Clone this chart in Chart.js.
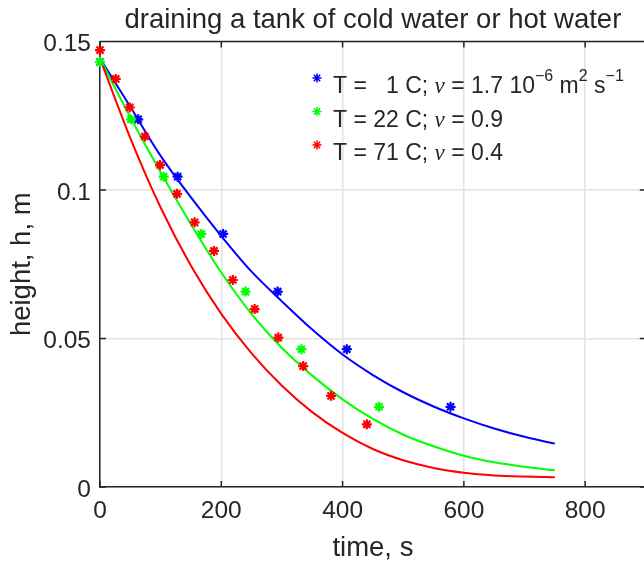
<!DOCTYPE html>
<html lang="en">
<head>
<meta charset="UTF-8">
<title>draining a tank of cold water or hot water</title>
<script src="https://cdn.jsdelivr.net/npm/chart.js@4.4.1/dist/chart.umd.min.js"></script>
<style>
  html, body { margin: 0; padding: 0; background: #ffffff; overflow: hidden; }
  #wrap { width: 653px; height: 573px; }
</style>
</head>
<body>
<div id="wrap"><canvas id="tankChart" width="653" height="573"></canvas></div>
<script>
// measured drain points, time in s and height in m
const timeCold = [0, 63, 128, 203, 293, 407, 578];
const timeRoom = [0, 51, 105, 167, 240, 332, 460];
const heightMarks = [0.1431, 0.1238, 0.1045, 0.0852, 0.0658, 0.0464, 0.0270];
const timeHot = [0, 26, 49, 74, 99, 127, 156, 188, 219, 255, 294, 335, 381, 440];
const heightHot = [0.1471, 0.1374, 0.1278, 0.1180, 0.1084, 0.0987, 0.0891, 0.0795,
                   0.0697, 0.0599, 0.0503, 0.0407, 0.0307, 0.0211];

// model curves
const curveTime = [0, 50, 100, 150, 200, 250, 300, 350, 400, 450, 500, 550, 600, 650, 700, 750];
const curveCold = [0.1443, 0.1280, 0.1115, 0.0975, 0.0845, 0.0725, 0.0625, 0.0530,
                   0.0446, 0.0377, 0.0319, 0.0271, 0.0231, 0.0197, 0.0169, 0.0146];
const curveRoom = [0.1443, 0.1245, 0.1060, 0.0885, 0.0722, 0.0582, 0.0468, 0.0375,
                   0.0295, 0.0229, 0.0176, 0.0137, 0.0105, 0.0083, 0.0068, 0.0056];
const curveHot  = [0.1443, 0.1175, 0.0941, 0.0745, 0.0583, 0.0450, 0.0341, 0.0252,
                   0.0182, 0.0128, 0.0090, 0.0064, 0.0048, 0.0039, 0.0035, 0.0033];

const xTicks = [0, 200, 400, 600, 800];
const yTicks = [0, 0.05, 0.1, 0.15];
const yTickLabels = ['0', '0.05', '0.1', '0.15'];

const legendLabels = [
    'T =   1 C; \\nu = 1.7 10^{-6} m^2 s^{-1}',
    'T = 22 C; \\nu = 0.9',
    'T = 71 C; \\nu = 0.4'
];
const seriesColors = ['#0000ff', '#00ff00', '#ff0000'];

const textColor = '#262626';
const fontFamily = '"Liberation Sans", Arial, Helvetica, sans-serif';

function pairs(xs, ys) {
    return xs.map((x, i) => ({ x: x, y: ys[i] }));
}

function markSet(xs, ys, color, order) {
    return {
        data: pairs(xs, ys),
        showLine: false,
        borderColor: color,
        backgroundColor: color,
        pointStyle: 'star',
        pointRadius: 5,
        pointBorderWidth: 2.2,
        clip: false,
        order: order
    };
}

function curveSet(ys, color, order) {
    return {
        data: pairs(curveTime, ys),
        borderColor: color,
        borderWidth: 2,
        pointRadius: 0,
        cubicInterpolationMode: 'monotone',
        fill: false,
        order: order
    };
}

// split a TeX-ish legend string into plain / italic / superscript pieces
function texPieces(str) {
    const parts = str.split(/(\\nu|\^\{[^}]*\}|\^.)/).filter(s => s.length);
    return parts.map(p => {
        if (p === '\\nu') return { text: '\u03bd', kind: 'greek' };
        if (p[0] === '^') return { text: p.replace(/[\^{}]/g, '').replace('-', '\u2212'), kind: 'sup' };
        return { text: p, kind: 'plain' };
    });
}

const axesBox = {
    id: 'axesBox',
    afterDraw(chart) {
        const ctx = chart.ctx;
        const a = chart.chartArea;
        const xs = chart.scales.x, ys = chart.scales.y;
        const tick = 6;
        ctx.save();
        ctx.strokeStyle = textColor;
        ctx.lineWidth = 1.5;
        ctx.beginPath();
        ctx.moveTo(a.left, a.top); ctx.lineTo(a.right, a.top);
        ctx.moveTo(a.right, a.top); ctx.lineTo(a.right, a.bottom);
        xTicks.forEach(v => {
            const px = xs.getPixelForValue(v);
            ctx.moveTo(px, a.bottom); ctx.lineTo(px, a.bottom - tick);
            ctx.moveTo(px, a.top); ctx.lineTo(px, a.top + tick);
        });
        yTicks.forEach(v => {
            const py = ys.getPixelForValue(v);
            ctx.moveTo(a.left, py); ctx.lineTo(a.left + tick, py);
            ctx.moveTo(a.right, py); ctx.lineTo(a.right - tick, py);
        });
        ctx.stroke();

        // legend, drawn inside the axes like the original
        const markX = a.left + 217;
        const textX = a.left + 233;
        legendLabels.forEach((label, i) => {
            const base = a.top + 51.5 + i * 33.5;
            ctx.strokeStyle = seriesColors[i];
            ctx.fillStyle = seriesColors[i];
            Chart.helpers.drawPoint(ctx, { pointStyle: 'star', radius: 4.5, borderWidth: 2, rotation: 0 },
                markX, base - 15);
            let x = textX;
            ctx.fillStyle = textColor;
            ctx.textBaseline = 'alphabetic';
            ctx.textAlign = 'left';
            texPieces(label).forEach(p => {
                let y = base;
                if (p.kind === 'sup') {
                    ctx.font = '16px ' + fontFamily;
                    y = base - 12;
                } else if (p.kind === 'greek') {
                    ctx.font = 'italic 23px "Liberation Serif", "DejaVu Serif", serif';
                } else {
                    ctx.font = '23px ' + fontFamily;
                }
                ctx.fillText(p.text, x, y);
                x += ctx.measureText(p.text).width;
            });
        });
        ctx.restore();
    }
};

new Chart(document.getElementById('tankChart'), {
    type: 'line',
    data: {
        datasets: [
            markSet(timeCold, heightMarks, seriesColors[0], 3),
            markSet(timeRoom, heightMarks, seriesColors[1], 2),
            markSet(timeHot, heightHot, seriesColors[2], 1),
            curveSet(curveCold, seriesColors[0], 6),
            curveSet(curveRoom, seriesColors[1], 5),
            curveSet(curveHot, seriesColors[2], 4)
        ]
    },
    options: {
        responsive: false,
        animation: false,
        events: [],
        layout: { padding: { left: 0, right: 4.5, top: 0, bottom: 0 } },
        plugins: {
            legend: { display: false },
            tooltip: { enabled: false },
            title: {
                display: true,
                fullSize: false,
                text: 'draining a tank of cold water or hot water',
                color: textColor,
                font: { family: fontFamily, size: 27.5, weight: 'normal' },
                padding: { top: 3.5, bottom: 5 }
            }
        },
        scales: {
            x: {
                type: 'linear',
                min: 0,
                max: 900,
                afterFit: s => { s.height = 86; },
                afterBuildTicks: s => { s.ticks = xTicks.map(v => ({ value: v })); },
                grid: { color: '#e2e2e2', lineWidth: 1.5, drawTicks: false },
                border: { display: true, color: textColor, width: 1.5 },
                ticks: {
                    color: textColor,
                    font: { family: fontFamily, size: 24.5 },
                    padding: 10,
                    maxRotation: 0,
                    autoSkip: false
                },
                title: {
                    display: true,
                    text: 'time, s',
                    color: textColor,
                    font: { family: fontFamily, size: 27.5 },
                    padding: { top: 0, bottom: 8 }
                }
            },
            y: {
                type: 'linear',
                min: 0,
                max: 0.15,
                afterFit: s => { s.width = 100; },
                afterBuildTicks: s => { s.ticks = yTicks.map(v => ({ value: v })); },
                grid: { color: '#e2e2e2', lineWidth: 1.5, drawTicks: false },
                border: { display: true, color: textColor, width: 1.5 },
                ticks: {
                    color: textColor,
                    font: { family: fontFamily, size: 24.5 },
                    padding: 9,
                    labelOffset: 3,
                    autoSkip: false,
                    callback: (v, i) => yTickLabels[i]
                },
                title: {
                    display: true,
                    text: 'height, h, m',
                    color: textColor,
                    font: { family: fontFamily, size: 27.5 },
                    padding: { top: 6, bottom: 0 }
                }
            }
        }
    },
    plugins: [axesBox]
});
</script>
</body>
</html>
